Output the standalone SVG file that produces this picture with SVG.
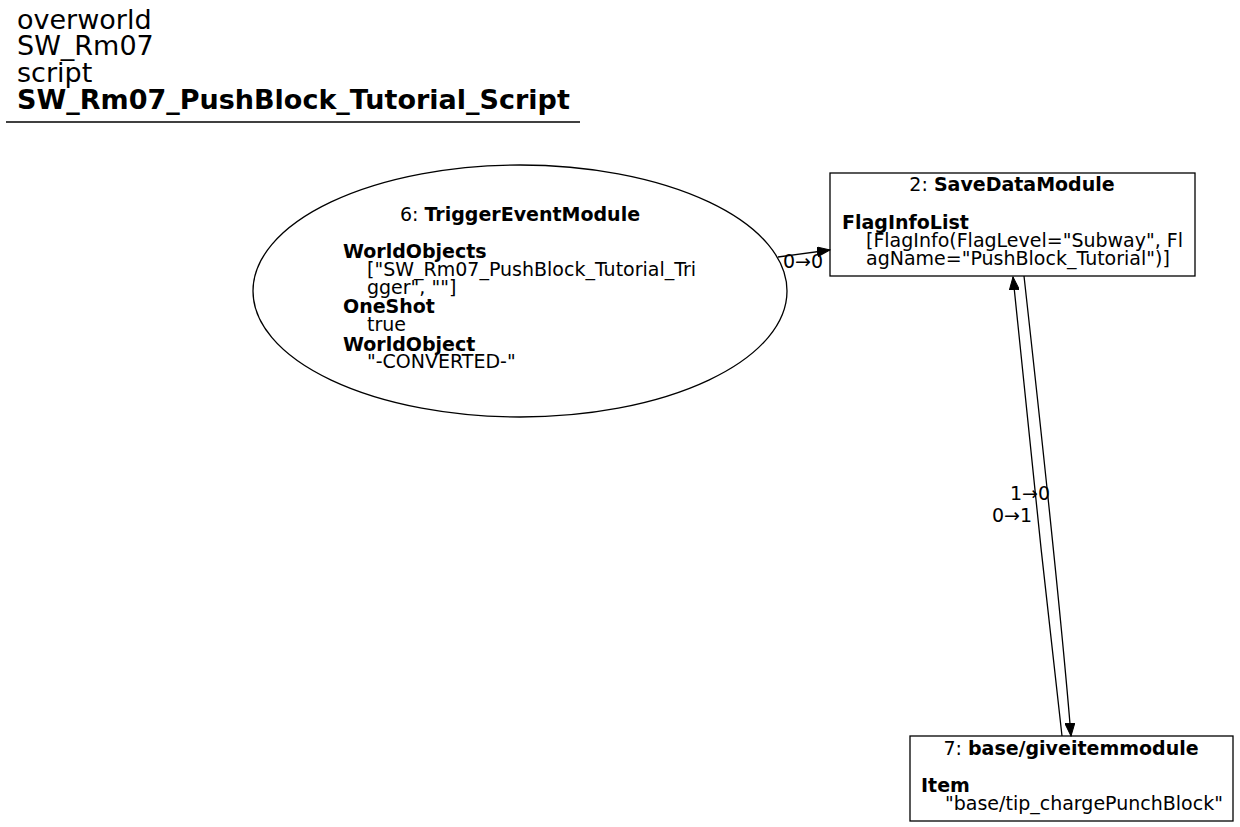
<svg xmlns="http://www.w3.org/2000/svg" width="1240" height="827" viewBox="0 0 1240 827">
<style>
text{font-family:"DejaVu Sans",sans-serif;fill:#000}
.t{font-size:27px}
.n{font-size:19px}
.b{font-weight:bold}
.m{text-anchor:middle}
.s{fill:none;stroke:#000;stroke-width:1.3}
.e{fill:none;stroke:#000;stroke-width:1.3}
</style>
<defs>
<marker id="ah" markerWidth="14" markerHeight="10" refX="13" refY="5" orient="auto" markerUnits="userSpaceOnUse">
<path d="M0,0 L13,5 L0,10 Z" fill="#000" stroke="#000"/>
</marker>
</defs>
<rect width="1240" height="827" fill="#fff"/>
<g id="title">
<text class="t" x="17" y="29">overworld</text>
<text class="t" x="17" y="55">SW_Rm07</text>
<text class="t" x="17" y="82">script</text>
<text class="t b" x="17" y="109">SW_Rm07_PushBlock_Tutorial_Script</text>
<line x1="6" y1="122" x2="580" y2="122" stroke="#000" stroke-width="1.3"/>
</g>
<g id="node6">
<ellipse class="s" cx="520" cy="291" rx="267" ry="126"/>
<text class="n m" x="520" y="221">6: <tspan class="b">TriggerEventModule</tspan></text>
<text class="n b" x="343" y="258">WorldObjects</text>
<text class="n" x="367" y="276">["SW_Rm07_PushBlock_Tutorial_Tri</text>
<text class="n" x="367" y="294">gger", ""]</text>
<text class="n b" x="343" y="313">OneShot</text>
<text class="n" x="367" y="331">true</text>
<text class="n b" x="343" y="351">WorldObject</text>
<text class="n" x="367" y="368">"-CONVERTED-"</text>
</g>
<g id="node2">
<rect class="s" x="830" y="173" width="365" height="103"/>
<text class="n m" x="1012" y="191">2: <tspan class="b">SaveDataModule</tspan></text>
<text class="n b" x="842" y="229">FlagInfoList</text>
<text class="n" x="866" y="247">[FlagInfo(FlagLevel="Subway", Fl</text>
<text class="n" x="866" y="265">agName="PushBlock_Tutorial")]</text>
</g>
<g id="node7">
<rect class="s" x="910" y="736" width="323" height="85"/>
<text class="n m" x="1071" y="755">7: <tspan class="b">base/giveitemmodule</tspan></text>
<text class="n b" x="921" y="792">Item</text>
<text class="n" x="945" y="810">"base/tip_chargePunchBlock"</text>
</g>
<g id="edges">
<path class="e" d="M778,257 L830,250" marker-end="url(#ah)"/>
<text class="n m" x="803" y="268">0→0</text>
<path class="e" d="M1062,736 C1045,590 1025,400 1013,277" marker-end="url(#ah)"/>
<path class="e" d="M1024,276 C1040,420 1060,600 1071,736" marker-end="url(#ah)"/>
<text class="n m" x="1030" y="500">1→0</text>
<text class="n m" x="1012" y="522">0→1</text>
</g>
</svg>
